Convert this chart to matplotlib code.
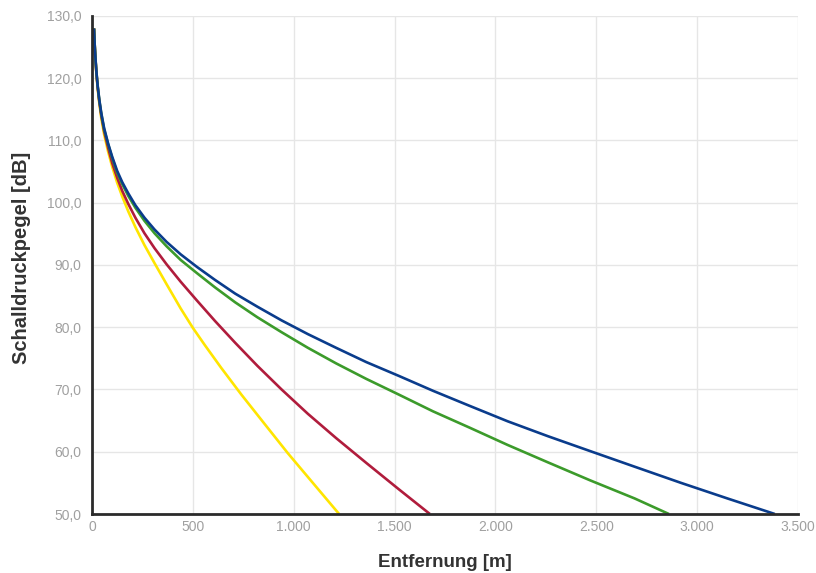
import matplotlib
matplotlib.use("Agg")
import matplotlib.pyplot as plt
from matplotlib.ticker import FuncFormatter, MultipleLocator

plt.rcParams['font.family'] = ['Liberation Sans', 'DejaVu Sans']

# Distance [m] and sound pressure level [dB]
yellow_x = [10, 13, 17, 22, 28, 36, 46, 60, 80, 100, 125, 150, 180, 215, 260, 310,
            370, 440, 500, 560, 640, 740, 850, 970, 1100, 1225]
yellow_y = [128, 125.5, 123.0, 120.7, 118.4, 116.0, 113.6, 111.0, 108.2, 105.8, 103.2,
            101.0, 98.6, 96.1, 93.2, 90.3, 86.9, 83.0, 79.9, 77.1, 73.5, 69.2, 64.7,
            59.8, 54.8, 50]

red_x = [10, 13, 17, 22, 28, 36, 46, 60, 80, 100, 125, 150, 180, 215, 260, 310, 370,
         440, 520, 610, 710, 820, 940, 1070, 1210, 1360, 1520, 1675]
red_y = [128, 125.5, 123.1, 120.8, 118.6, 116.3, 114.0, 111.5, 108.8, 106.4, 104.0,
         101.9, 99.8, 97.6, 95.1, 92.7, 90.1, 87.3, 84.3, 81.0, 77.5, 73.8, 70.0, 66.1,
         62.2, 58.2, 54.0, 50]

green_x = [10, 13, 17, 22, 28, 36, 46, 60, 80, 100, 125, 150, 180, 215, 260, 310, 370,
           440, 520, 610, 710, 820, 940, 1070, 1210, 1360, 1520, 1690, 1870, 2060,
           2260, 2470, 2690, 2860]
green_y = [128, 125.6, 123.2, 120.9, 118.8, 116.5, 114.3, 111.8, 109.4, 107.2, 104.8,
           103.0, 101.1, 99.2, 97.1, 95.1, 93.0, 90.8, 88.7, 86.4, 84.0, 81.6, 79.2,
           76.7, 74.2, 71.7, 69.2, 66.5, 63.9, 61.1, 58.3, 55.4, 52.5, 50]

blue_x = [10, 13, 17, 22, 28, 36, 46, 60, 80, 100, 125, 150, 180, 215, 260, 310, 370,
          440, 520, 610, 710, 820, 940, 1070, 1210, 1360, 1520, 1690, 1870, 2060, 2260,
          2470, 2690, 2920, 3150, 3385]
blue_y = [128, 125.6, 123.3, 121.0, 118.8, 116.6, 114.4, 112.0, 109.5, 107.4, 105.1,
          103.3, 101.5, 99.6, 97.6, 95.7, 93.7, 91.7, 89.7, 87.6, 85.4, 83.3, 81.1,
          78.9, 76.7, 74.4, 72.2, 69.8, 67.4, 64.9, 62.5, 60.1, 57.6, 55.0, 52.5, 50]

x_label = "Entfernung [m]"
y_label = "Schalldruckpegel [dB]"

fig = plt.figure(figsize=(8.16, 5.73), dpi=100)
ax = fig.add_axes([92/816, 1-514/573, (798-92)/816, (514-16)/573])

series = [
    (yellow_x, yellow_y, "#FFE500"),
    (red_x, red_y, "#B01C3C"),
    (green_x, green_y, "#3C9B2B"),
    (blue_x, blue_y, "#0A3C8C"),
]
for xs, ys, c in series:
    ax.plot(xs, ys, color=c, lw=1.9, solid_capstyle='butt', solid_joinstyle='round', zorder=3)

ax.set_xlim(0, 3500)
ax.set_ylim(50, 130)
ax.xaxis.set_major_locator(MultipleLocator(500))
ax.yaxis.set_major_locator(MultipleLocator(10))

def fmt_x(v, pos):
    return f"{int(round(v)):,}".replace(",", ".")

def fmt_y(v, pos):
    return f"{v:.1f}".replace(".", ",")

ax.xaxis.set_major_formatter(FuncFormatter(fmt_x))
ax.yaxis.set_major_formatter(FuncFormatter(fmt_y))

ax.grid(True, color="#e6e6e6", lw=1.0, zorder=0)
ax.set_axisbelow(True)
for s in ["top", "right"]:
    ax.spines[s].set_visible(False)
for s in ["left", "bottom"]:
    ax.spines[s].set_color("#2b2b2b")
    ax.spines[s].set_linewidth(2.0)
    ax.spines[s].set_zorder(4)

ax.tick_params(axis="both", length=0, colors="#a0a0a0", labelsize=10)
ax.tick_params(axis="x", pad=4.5)
ax.tick_params(axis="y", pad=7.5)

ax.set_xlabel(x_label, fontsize=13.5, fontweight="bold", color="#333333", labelpad=14)
ax.set_ylabel(y_label, fontsize=14.5, fontweight="bold", color="#333333")
ax.yaxis.set_label_coords(-0.086, 0.514)

fig.savefig("out.png", dpi=100)
